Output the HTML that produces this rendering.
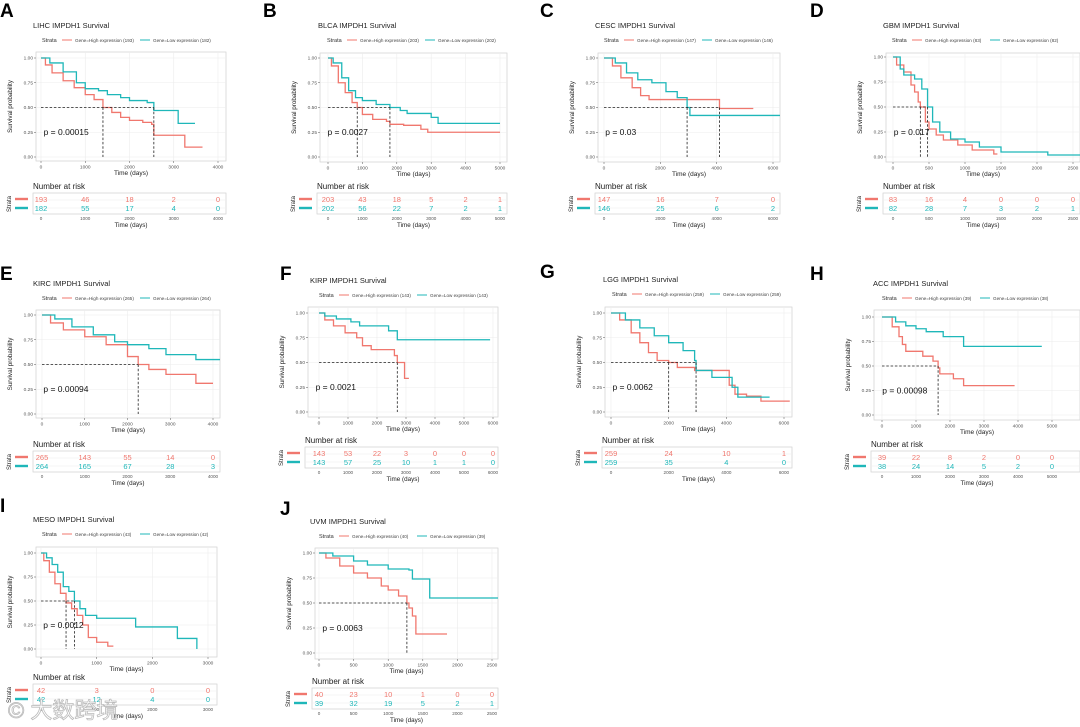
<!DOCTYPE html>
<html><head><meta charset="utf-8">
<style>
html,body{margin:0;padding:0;background:#fff;}
svg{display:block;font-family:"Liberation Sans",Arial,sans-serif;}
</style></head>
<body>
<svg id="fig" width="1080" height="727" viewBox="0 0 1080 727" xmlns="http://www.w3.org/2000/svg"></svg>
<script>
// ---------- DATA ----------
const lihcHighT=[0,100,250,500,750,1000,1200,1400,1600,1800,2000,2300,2500,2550,3250,3650];
const lihcHighS=[1,.93,.85,.77,.70,.63,.58,.50,.45,.40,.37,.35,.33,.22,.10,.10];
const lihcLowT=[0,200,500,800,1000,1300,1500,1800,2000,2400,2550,3100,3480];
const lihcLowS=[1,.95,.86,.75,.69,.67,.63,.60,.57,.55,.47,.34,.34];
const lihcTicks=[0,1000,2000,3000,4000];
const lihcRiskHigh=[193,46,18,2,0];
const lihcRiskLow=[182,55,17,4,0];

const blcaHighT=[0,100,300,500,700,850,1000,1300,1700,1800,2200,2700,2900,5000];
const blcaHighS=[1,.92,.75,.65,.55,.50,.43,.38,.36,.33,.32,.28,.25,.25];
const blcaLowT=[0,150,400,600,800,1000,1400,1800,2100,2300,3000,3200,5000];
const blcaLowS=[1,.95,.80,.67,.60,.57,.53,.50,.47,.44,.40,.34,.34];
const blcaTicks=[0,1000,2000,3000,4000,5000];
const blcaRiskHigh=[203,43,18,5,2,1];
const blcaRiskLow=[202,56,22,7,2,1];

const cescHighT=[0,300,600,1000,1300,1600,4100,5300];
const cescHighS=[1,.92,.80,.70,.62,.58,.49,.49];
const cescLowT=[0,400,800,1200,1700,2200,2600,2950,3050,6300];
const cescLowS=[1,.95,.85,.78,.75,.66,.60,.50,.42,.42];
const cescTicks=[0,2000,4000,6000];
const cescRiskHigh=[147,16,7,0];
const cescRiskLow=[146,25,6,2];

const gbmHighT=[0,50,150,250,300,350,380,450,500,600,700,900,1100,1400,1450];
const gbmHighS=[1,.92,.85,.72,.65,.55,.50,.35,.28,.22,.17,.12,.07,.03,.03];
const gbmLowT=[0,100,150,300,400,480,550,650,800,1000,1200,1500,2150,2600];
const gbmLowS=[1,.88,.82,.78,.68,.50,.35,.25,.18,.15,.10,.05,.02,.02];
const gbmTicks=[0,500,1000,1500,2000,2500];
const gbmRiskHigh=[83,16,4,0,0,0];
const gbmRiskLow=[82,28,7,3,2,1];

const kircHighT=[0,200,500,1000,1500,2000,2250,2500,2900,3600,4000];
const kircHighS=[1,.92,.85,.78,.70,.58,.50,.45,.40,.31,.31];
const kircLowT=[0,300,700,1200,1700,2000,2500,2900,3600,4200];
const kircLowS=[1,.96,.88,.80,.73,.70,.66,.60,.55,.55];
const kircTicks=[0,1000,2000,3000,4000];
const kircRiskHigh=[265,143,55,14,0];
const kircRiskLow=[264,165,67,28,3];

const kirpHighT=[0,200,500,900,1300,1500,1800,2600,2700,2950,3100];
const kirpHighS=[1,.93,.87,.80,.75,.67,.63,.57,.50,.34,.34];
const kirpLowT=[0,200,600,1100,1400,2400,2700,5900];
const kirpLowS=[1,.97,.94,.91,.87,.82,.73,.73];
const kirpTicks=[0,1000,2000,3000,4000,5000,6000];
const kirpRiskHigh=[143,53,22,3,0,0,0];
const kirpRiskLow=[143,57,25,10,1,1,0];

const lggHighT=[0,300,700,1000,1300,1600,2000,2300,2900,4100,4300,4700,5200,6200];
const lggHighS=[1,.93,.80,.70,.60,.52,.50,.45,.42,.27,.18,.16,.11,.11];
const lggLowT=[0,500,1000,1500,2000,2500,2900,2950,3500,4200,4400,5500];
const lggLowS=[1,.93,.85,.77,.70,.62,.52,.42,.35,.25,.15,.15];
const lggTicks=[0,2000,4000,6000];
const lggRiskHigh=[259,24,10,1];
const lggRiskLow=[259,35,4,0];

const accHighT=[0,300,500,600,700,1200,1500,1650,1700,2100,2400,3900];
const accHighS=[1,.90,.80,.72,.65,.60,.55,.48,.42,.37,.30,.30];
const accLowT=[0,400,700,1000,1300,1800,2400,4700];
const accLowS=[1,.95,.91,.88,.85,.80,.70,.70];
const accTicks=[0,1000,2000,3000,4000,5000];
const accRiskHigh=[39,22,8,2,0,0];
const accRiskLow=[38,24,14,5,2,0];

const mesoHighT=[0,50,150,250,350,450,550,650,750,850,1000,1200,1300];
const mesoHighS=[1,.92,.80,.68,.58,.48,.42,.35,.25,.12,.07,.03,.03];
const mesoLowT=[0,100,200,300,400,500,600,700,800,1000,1700,2450,2800];
const mesoLowS=[1,.95,.88,.80,.65,.60,.50,.42,.35,.32,.23,.11,0];
const mesoTicks=[0,1000,2000,3000];
const mesoRiskHigh=[42,3,0,0];
const mesoRiskLow=[42,12,4,0];

const uvmHighT=[0,100,300,500,700,900,1000,1150,1270,1300,1350,1400,1850];
const uvmHighS=[1,.95,.87,.80,.75,.67,.63,.57,.50,.45,.37,.19,.19];
const uvmLowT=[0,200,500,700,1000,1300,1350,1600,2600];
const uvmLowS=[1,.97,.92,.88,.84,.83,.74,.55,.55];
const uvmTicks=[0,500,1000,1500,2000,2500];
const uvmRiskHigh=[40,23,10,1,0,0];
const uvmRiskLow=[39,32,19,5,2,1];

const RED="#F0776E", TEAL="#1FB7B9";
const panels=[
 {k:"lihc",letter:"A",lx:0,ly:17,name:"LIHC",nH:193,nL:182,p:"0.00015",hT:lihcHighT,hS:lihcHighS,lT:lihcLowT,lS:lihcLowS,ticks:lihcTicks,rH:lihcRiskHigh,rL:lihcRiskLow,
  L:36,T:52,R:226,B:161,x0:41,xT:4000,xTp:218,y1:58,y0:157,rT:193,tx:33,ty:24},
 {k:"blca",letter:"B",lx:263,ly:17,name:"BLCA",nH:203,nL:202,p:"0.0027",hT:blcaHighT,hS:blcaHighS,lT:blcaLowT,lS:blcaLowS,ticks:blcaTicks,rH:blcaRiskHigh,rL:blcaRiskLow,
  L:320,T:53,R:507,B:162,x0:328,xT:5000,xTp:500,y1:58,y0:157,rT:193,tx:318,ty:24},
 {k:"cesc",letter:"C",lx:540,ly:17,name:"CESC",nH:147,nL:146,p:"0.03",hT:cescHighT,hS:cescHighS,lT:cescLowT,lS:cescLowS,ticks:cescTicks,rH:cescRiskHigh,rL:cescRiskLow,
  L:598,T:53,R:780,B:162,x0:604,xT:6000,xTp:773,y1:58,y0:157,rT:193,tx:595,ty:24},
 {k:"gbm",letter:"D",lx:810,ly:17,name:"GBM",nH:83,nL:82,p:"0.017",hT:gbmHighT,hS:gbmHighS,lT:gbmLowT,lS:gbmLowS,ticks:gbmTicks,rH:gbmRiskHigh,rL:gbmRiskLow,
  L:886,T:53,R:1080,B:162,x0:893,xT:2500,xTp:1073,y1:57,y0:157,rT:193,tx:883,ty:24},
 {k:"kirc",letter:"E",lx:0,ly:280,name:"KIRC",nH:265,nL:264,p:"0.00094",hT:kircHighT,hS:kircHighS,lT:kircLowT,lS:kircLowS,ticks:kircTicks,rH:kircRiskHigh,rL:kircRiskLow,
  L:36,T:310,R:220,B:418,x0:42,xT:4000,xTp:213,y1:315,y0:414,rT:451,tx:33,ty:282},
 {k:"kirp",letter:"F",lx:280,ly:280,name:"KIRP",nH:143,nL:143,p:"0.0021",hT:kirpHighT,hS:kirpHighS,lT:kirpLowT,lS:kirpLowS,ticks:kirpTicks,rH:kirpRiskHigh,rL:kirpRiskLow,
  L:308,T:307,R:498,B:417,x0:319,xT:6000,xTp:493,y1:313,y0:412,rT:447,tx:310,ty:279},
 {k:"lgg",letter:"G",lx:540,ly:278,name:"LGG",nH:259,nL:259,p:"0.0062",hT:lggHighT,hS:lggHighS,lT:lggLowT,lS:lggLowS,ticks:lggTicks,rH:lggRiskHigh,rL:lggRiskLow,
  L:605,T:307,R:792,B:417,x0:611,xT:6000,xTp:784,y1:313,y0:412,rT:447,tx:603,ty:278},
 {k:"acc",letter:"H",lx:810,ly:280,name:"ACC",nH:39,nL:38,p:"0.00098",hT:accHighT,hS:accHighS,lT:accLowT,lS:accLowS,ticks:accTicks,rH:accRiskHigh,rL:accRiskLow,
  L:874,T:310,R:1080,B:420,x0:882,xT:5000,xTp:1052,y1:317,y0:415,rT:451,tx:873,ty:282},
 {k:"meso",letter:"I",lx:0,ly:512,name:"MESO",nH:43,nL:42,p:"0.0012",hT:mesoHighT,hS:mesoHighS,lT:mesoLowT,lS:mesoLowS,ticks:mesoTicks,rH:mesoRiskHigh,rL:mesoRiskLow,
  L:36,T:547,R:217,B:657,x0:41,xT:3000,xTp:208,y1:553,y0:649,rT:684,tx:33,ty:518},
 {k:"uvm",letter:"J",lx:280,ly:515,name:"UVM",nH:40,nL:39,p:"0.0063",hT:uvmHighT,hS:uvmHighS,lT:uvmLowT,lS:uvmLowS,ticks:uvmTicks,rH:uvmRiskHigh,rL:uvmRiskLow,
  L:315,T:548,R:498,B:659,x0:319,xT:2500,xTp:492,y1:553,y0:653,rT:688,tx:310,ty:520}
];
const yTicks=[0,0.25,0.5,0.75,1];
const yTickLabels=["0.00","0.25","0.50","0.75","1.00"];

// ---------- DRAW ----------
const NS="http://www.w3.org/2000/svg";
const svg=document.getElementById("fig");
function mk(tag,attrs,parent,text){
  const e=document.createElementNS(NS,tag);
  for(const a in attrs)e.setAttribute(a,attrs[a]);
  if(text!==undefined)e.textContent=text;
  (parent||svg).appendChild(e);return e;
}
function median(T,S){for(let i=0;i<S.length;i++)if(S[i]<=0.5)return T[i];return null;}

panels.forEach(p=>{
  const g=mk("g",{});
  
  
  const xs=t=>p.x0+t*(p.xTp-p.x0)/p.xT;
  const ys=s=>p.y0-s*(p.y0-p.y1);
  const clipId="clip-"+p.k;
  const cp=mk("clipPath",{id:clipId},g);mk("rect",{x:p.L,y:p.T,width:p.R-p.L,height:p.B-p.T},cp);

  const letter=mk("text",{x:p.lx,y:p.ly,"font-size":19,"font-weight":"bold",fill:"#000"},g,p.letter);
  
  
  const title=mk("text",{x:p.tx,y:p.ty+4,"font-size":7.5,fill:"#222"},g,p.name+" IMPDH1 Survival");
  
  

  // legend
  const lg=mk("g",{},g);
  
  
  const ly=p.ty+18, lx=p.tx+9;
  mk("text",{x:lx,y:ly,"font-size":5.5,fill:"#333"},lg,"Strata");
  mk("line",{x1:lx+20,x2:lx+30,y1:ly-2,y2:ly-2,stroke:RED,"stroke-width":1},lg);
  mk("text",{x:lx+33,y:ly,"font-size":4.6,fill:"#444"},lg,"Gene=High expression ("+p.nH+")");
  mk("line",{x1:lx+98,x2:lx+108,y1:ly-2,y2:ly-2,stroke:TEAL,"stroke-width":1},lg);
  mk("text",{x:lx+111,y:ly,"font-size":4.6,fill:"#444"},lg,"Gene=Low expression ("+p.nL+")");

  // panel box & grid
  mk("rect",{x:p.L,y:p.T,width:p.R-p.L,height:p.B-p.T,fill:"#fff",stroke:"#d0d0d0","stroke-width":0.7},g);
  yTicks.forEach((v,i)=>{
    mk("line",{x1:p.L,x2:p.R,y1:ys(v),y2:ys(v),stroke:"#ececec","stroke-width":0.6},g);
    mk("line",{x1:p.L-2,x2:p.L,y1:ys(v),y2:ys(v),stroke:"#555","stroke-width":0.5},g);
    const yl=mk("text",{x:p.L-3,y:ys(v)+1.7,"font-size":4.8,fill:"#555","text-anchor":"end"},g,yTickLabels[i]);
    
    
  });
  p.ticks.forEach(t=>{
    if(xs(t)<=p.R+1) mk("line",{x1:xs(t),x2:xs(t),y1:p.T,y2:p.B,stroke:"#ececec","stroke-width":0.6},g);
    mk("line",{x1:xs(t),x2:xs(t),y1:p.B,y2:p.B+2,stroke:"#555","stroke-width":0.5},g);
    const xl=mk("text",{x:xs(t),y:p.B+7.5,"font-size":4.8,fill:"#555","text-anchor":"middle"},g,String(t));
    
    
  });
  const xt=mk("text",{x:(p.L+p.R)/2,y:p.B+14,"font-size":6.5,fill:"#222","text-anchor":"middle"},g,"Time (days)");
  
  
  const yt=mk("text",{x:0,y:0,"font-size":6.3,fill:"#222","text-anchor":"middle",transform:`translate(${p.L-24},${(p.T+p.B)/2}) rotate(-90)`},g,"Survival probability");
  
  

  // curves
  const curves=mk("g",{"clip-path":`url(#${clipId})`},g);
  [[p.hT,p.hS,RED,"high"],[p.lT,p.lS,TEAL,"low"]].forEach(([T,S,c,nm])=>{
    let d=`M${xs(T[0])},${ys(S[0])}`;
    for(let i=1;i<T.length;i++){d+=`H${xs(T[i])}V${ys(S[i])}`;}
    const path=mk("path",{d:d,fill:"none",stroke:c,"stroke-width":1.3},curves);
    
    
  });
  // medians
  const mH=median(p.hT,p.hS), mL=median(p.lT,p.lS);
  const meds=[mH,mL].filter(m=>m!==null);
  if(meds.length){
    const mx=Math.max(...meds);
    const hl=mk("line",{x1:xs(0),x2:xs(mx),y1:ys(.5),y2:ys(.5),stroke:"#222","stroke-width":0.8,"stroke-dasharray":"2.5,1.8"},g);
    
    
    meds.forEach(m=>{
      const vl=mk("line",{x1:xs(m),x2:xs(m),y1:ys(.5),y2:ys(0),stroke:"#222","stroke-width":0.8,"stroke-dasharray":"2.5,1.8"},g);
      
      
    });
  }
  const pv=mk("text",{x:p.L+(p.R-p.L)*0.04,y:ys(0.22),"font-size":8.5,fill:"#111"},g,"p = "+p.p);
  
  

  // risk table
  const rt=mk("g",{},g);
  
  
  mk("text",{x:p.L-3,y:p.rT-4,"font-size":8,fill:"#222"},rt,"Number at risk");
  const rB=p.rT+21;
  mk("rect",{x:p.L-3,y:p.rT,width:p.R-p.L+3,height:21,fill:"#fff",stroke:"#d0d0d0","stroke-width":0.7},rt);
  mk("line",{x1:p.L-3,x2:p.R,y1:p.rT+7,y2:p.rT+7,stroke:"#ececec","stroke-width":0.5},rt);
  mk("line",{x1:p.L-3,x2:p.R,y1:p.rT+15,y2:p.rT+15,stroke:"#ececec","stroke-width":0.5},rt);
  mk("line",{x1:p.L-21,x2:p.L-8,y1:p.rT+6,y2:p.rT+6,stroke:RED,"stroke-width":2.4},rt);
  mk("line",{x1:p.L-21,x2:p.L-8,y1:p.rT+15,y2:p.rT+15,stroke:TEAL,"stroke-width":2.4},rt);
  mk("text",{x:0,y:0,"font-size":6,fill:"#222","text-anchor":"middle",transform:`translate(${p.L-25},${p.rT+11}) rotate(-90)`},rt,"Strata");
  p.ticks.forEach((t,i)=>{
    const x=xs(t);
    const a=mk("text",{x:x,y:p.rT+9,"font-size":7.5,fill:RED,"text-anchor":"middle"},rt,String(p.rH[i]));
    
    
    const b=mk("text",{x:x,y:p.rT+18,"font-size":7.5,fill:TEAL,"text-anchor":"middle"},rt,String(p.rL[i]));
    
    
    mk("text",{x:x,y:rB+6,"font-size":4.6,fill:"#555","text-anchor":"middle"},rt,String(t));
  });
  mk("text",{x:(p.L+p.R)/2,y:rB+13,"font-size":6.3,fill:"#222","text-anchor":"middle"},rt,"Time (days)");
});

// watermark
const wm=mk("text",{x:8,y:718,"font-size":22,fill:"#fff",stroke:"#bbb","stroke-width":0.8,"font-family":"'Liberation Sans','Noto Sans CJK SC',sans-serif"},svg,"© 大数跨境");


</script>
</body></html>
